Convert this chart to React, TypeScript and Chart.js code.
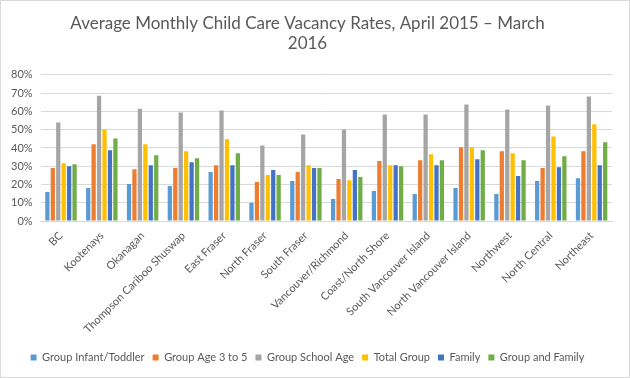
import React, { useEffect, useRef } from "react";
import { Chart, registerables } from "chart.js";

Chart.register(...registerables);

const categories = [
  "BC", "Kootenays", "Okanagan", "Thompson Cariboo Shuswap", "East Fraser",
  "North Fraser", "South Fraser", "Vancouver/Richmond", "Coast/North Shore",
  "South Vancouver Island", "North Vancouver Island", "Northwest", "North Central", "Northeast",
];
const infantToddler = [15.9, 18.1, 20.3, 19.2, 26.8, 10.0, 21.9, 12.1, 16.5, 14.8, 18.1, 14.8, 21.9, 23.5];
const age3to5 = [29.0, 42.0, 28.4, 29.0, 30.6, 21.4, 26.8, 23.0, 32.8, 33.3, 40.4, 38.2, 29.0, 38.2];
const schoolAge = [53.9, 68.6, 61.5, 59.4, 60.5, 41.4, 47.4, 50.1, 58.3, 58.3, 63.7, 61.0, 63.2, 68.1];
const totalGroup = [31.7, 50.1, 42.0, 38.2, 44.7, 25.2, 30.6, 22.4, 30.6, 36.6, 40.4, 37.1, 46.3, 52.9];
const family = [30.0, 38.7, 30.6, 32.2, 30.6, 27.9, 29.0, 27.9, 30.6, 30.6, 33.8, 24.6, 29.5, 30.6];
const groupAndFamily = [31.1, 45.2, 36.0, 34.4, 37.1, 25.2, 29.0, 24.1, 30.0, 33.3, 38.7, 33.3, 35.5, 43.1];

const seriesNames = [
  "Group Infant/Toddler", "Group Age 3 to 5", "Group School Age", "Total Group", "Family", "Group and Family",
];
const seriesColors = ["#5B9BD5", "#ED7D31", "#A5A5A5", "#FFC000", "#4472C4", "#70AD47"];
const titleLines = ["Average Monthly Child Care Vacancy Rates, April 2015 \u2013 March", "2016"];

const FONT = "Lato, 'Open Sans', sans-serif";
const TEXT = "#595959";

export default function App() {
  const ref = useRef<HTMLCanvasElement | null>(null);
  useEffect(() => {
    if (!ref.current) return;
    const data = [infantToddler, age3to5, schoolAge, totalGroup, family, groupAndFamily];
    const chart = new Chart(ref.current, {
      type: "bar",
      data: {
        labels: categories,
        datasets: data.map((d, i) => ({
          label: seriesNames[i],
          data: d,
          backgroundColor: seriesColors[i],
          borderWidth: 0,
          categoryPercentage: 0.8,
          barPercentage: 0.78,
        })),
      },
      options: {
        animation: false,
        responsive: false,
        maintainAspectRatio: false,
        layout: { padding: { top: 12, left: 2, right: 17, bottom: 4 } },
        plugins: {
          title: {
            display: true,
            text: titleLines,
            color: TEXT,
            font: { family: FONT, size: 17, weight: "normal" },
            lineHeight: 1.4,
            padding: { top: 0, bottom: 21 },
          },
          legend: {
            position: "bottom",
            align: "center",
            labels: {
              color: TEXT,
              font: { family: FONT, size: 11 },
              boxWidth: 6,
              boxHeight: 6,
              padding: 8,
            },
          },
          tooltip: { enabled: false },
        },
        scales: {
          x: {
            grid: { display: false, drawTicks: false },
            border: { color: "#D9D9D9" },
            ticks: {
              color: TEXT,
              font: { family: FONT, size: 11 },
              minRotation: 45,
              maxRotation: 45,
              autoSkip: false,
              padding: 8,
            },
          },
          y: {
            min: 0,
            max: 80,
            grid: { color: "#D9D9D9", drawTicks: false },
            border: { display: false },
            ticks: {
              stepSize: 10,
              autoSkip: false,
              color: TEXT,
              font: { family: FONT, size: 11 },
              padding: 8,
              callback: (v: any) => v + "%",
            },
          },
        },
      },
    });
    return () => chart.destroy();
  }, []);
  return (
    <div
      style={{
        position: "fixed",
        left: 0,
        top: 0,
        width: 630,
        height: 378,
        boxSizing: "border-box",
        border: "1px solid #D9D9D9",
        background: "#fff",
      }}
    >
      <canvas ref={ref} width={628} height={376} style={{ display: "block" }} />
    </div>
  );
}
